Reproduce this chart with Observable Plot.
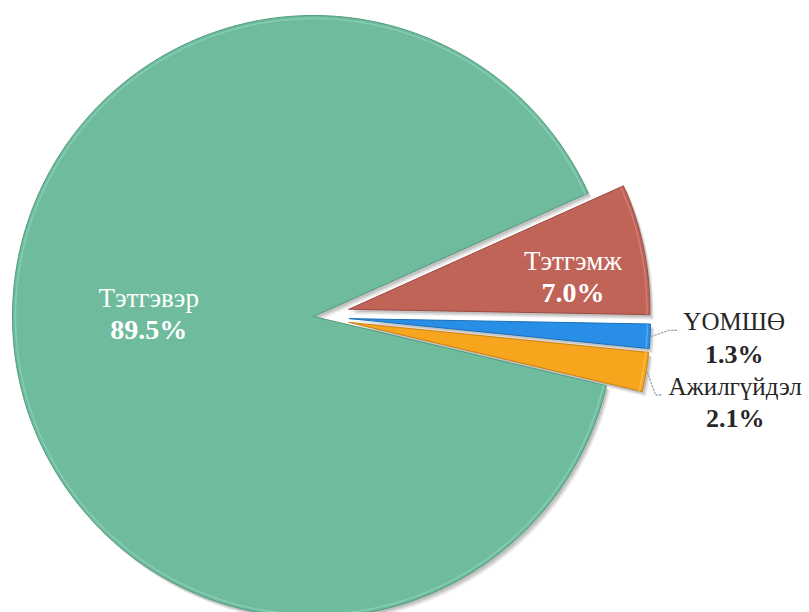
<!DOCTYPE html>
<html>
<head>
<meta charset="utf-8">
<script src="https://cdn.jsdelivr.net/npm/d3@7"></script>
<script src="https://cdn.jsdelivr.net/npm/@observablehq/plot@0.6"></script>
<style>
  html, body { margin: 0; padding: 0; background: #ffffff; }
  #chart svg { display: block; }
  g[aria-label="label-in"] text { filter: drop-shadow(1px 1.5px 1px rgba(0,0,0,0.45)); }
  g[aria-label="label-out"] text { filter: drop-shadow(1px 1.5px 1px rgba(0,0,0,0.3)); }
</style>
</head>
<body>
<div id="chart"></div>
<script>
// ---- data ----
const categories = ["Тэтгэмж", "ҮОМШӨ", "Ажилгүйдэл", "Тэтгэвэр"];
const values = [7.0, 1.3, 2.1, 89.5];

// ---- styles ----
const colors = ["#c06458", "#298fe6", "#f8a51e", "#6ebb9d"];
const strokes = ["#9c4a40", "#1b6fb8", "#c98210", "#4f9a7e"];
const highlights = ["#e08a7e", "#6fb8f5", "#fcc869", "#9ad8bd"];
const explode = [0.12, 0.12, 0.12, 0];
const labelInside = [true, false, false, true];
// label anchor: radius (fraction of pie radius) plus pixel nudges
const labelPos = [
  {r: 0.76, dx: 0, dy: 14},
  {r: 1.28, dx: 0, dy: -3},
  {r: 1.28, dx: 6, dy: 17},
  {r: 0.55, dx: 0, dy: -18}
];
const W = 809, H = 612;
const CX = 313, CY = 316, R = 301;
const startDeg = 65.8;
const fontFamily = "'Liberation Serif', 'Times New Roman', serif";
const fontSize = 25;

// ---- geometry (data units: pie radius = 1) ----
const pie = d3.pie().sort(null)
  .startAngle(startDeg * Math.PI / 180)
  .endAngle(startDeg * Math.PI / 180 + 2 * Math.PI);
const arcs = pie(values);
const polar = (a, r) => [r * Math.sin(a), r * Math.cos(a)];

const slices = arcs.map((a, i) => {
  const mid = (a.startAngle + a.endAngle) / 2;
  const [ox, oy] = polar(mid, explode[i]);
  const pts = [{x: ox, y: oy}];
  const rim = [];
  const n = Math.max(4, Math.ceil((a.endAngle - a.startAngle) / (Math.PI / 360)));
  for (let k = 0; k <= n; k++) {
    const t = a.startAngle + (a.endAngle - a.startAngle) * k / n;
    const [px, py] = polar(t, 1);
    pts.push({x: ox + px, y: oy + py});
    const [hx, hy] = polar(t, 1 - 3 / R);
    rim.push({x: ox + hx, y: oy + hy});
  }
  pts.push({x: ox, y: oy});
  return {i, mid, ox, oy, pts, rim};
});

const fmt = d3.format(".1f");
const labels = slices.map(s => {
  const p = labelPos[s.i];
  const [lx, ly] = polar(s.mid, p.r);
  return {
    name: categories[s.i],
    pct: fmt(values[s.i]) + "%",
    x: s.ox + lx + p.dx / R,
    y: s.oy + ly - p.dy / R,
    inside: labelInside[s.i]
  };
});

// leader lines for outside labels
const ctx = document.createElement("canvas").getContext("2d");
ctx.font = `${fontSize}px ${fontFamily}`;
const leaders = [];
slices.forEach((s, i) => {
  if (labelInside[i]) return;
  const L = labels[i];
  const [sx, sy] = polar(s.mid, 1.005);
  const startX = s.ox + sx, startY = s.oy + sy;
  const w = ctx.measureText(L.name).width;
  const endX = L.x - (w / 2 + 6) / R;
  const endY = L.y + 8 / R;
  const elbowX = Math.max(startX + 8 / R, endX - 8 / R);
  leaders.push(
    {k: i, x: startX, y: startY},
    {k: i, x: elbowX, y: endY},
    {k: i, x: endX, y: endY}
  );
});

const xDomain = [-CX / R, (W - CX) / R];
const yDomain = [-(H - CY) / R, CY / R];
const inside = labels.filter(d => d.inside);
const outside = labels.filter(d => !d.inside);

// soft shadow layers (offset, opacity)
const shadowLayers = [[4, 5, 0.06], [3, 4, 0.08], [2, 2.5, 0.12]];

const chart = Plot.plot({
  width: W,
  height: H,
  margin: 0,
  x: {domain: xDomain, axis: null},
  y: {domain: yDomain, axis: null},
  style: {background: "transparent", fontFamily},
  marks: [
    ...shadowLayers.flatMap(([dx, dy, op]) => slices.map(s => Plot.line(s.pts, {
      x: "x", y: "y", dx, dy, fill: "#000", fillOpacity: op, stroke: "none"
    }))),
    ...slices.map(s => Plot.line(s.pts, {
      x: "x", y: "y",
      fill: colors[s.i], stroke: strokes[s.i], strokeWidth: 1
    })),
    ...slices.map(s => Plot.line(s.rim, {
      x: "x", y: "y", stroke: highlights[s.i], strokeWidth: 1.5, strokeOpacity: 0.6
    })),
    Plot.line(leaders, {
      x: "x", y: "y", z: "k",
      stroke: "#a6a6a6", strokeWidth: 1.3, strokeDasharray: "1.5,2"
    }),
    Plot.text(inside, {x: "x", y: "y", text: "name", dy: -16,
      fill: "white", fontSize: fontSize + 2, ariaLabel: "label-in"}),
    Plot.text(inside, {x: "x", y: "y", text: "pct", dy: 16,
      fill: "white", fontSize: fontSize + 3, fontWeight: "bold", ariaLabel: "label-in"}),
    Plot.text(outside, {x: "x", y: "y", text: "name", dy: -16,
      fill: "#262626", fontSize, ariaLabel: "label-out"}),
    Plot.text(outside, {x: "x", y: "y", text: "pct", dy: 16,
      fill: "#262626", fontSize: fontSize + 1, fontWeight: "bold", ariaLabel: "label-out"})
  ]
});
document.getElementById("chart").appendChild(chart);
</script>
</body>
</html>
